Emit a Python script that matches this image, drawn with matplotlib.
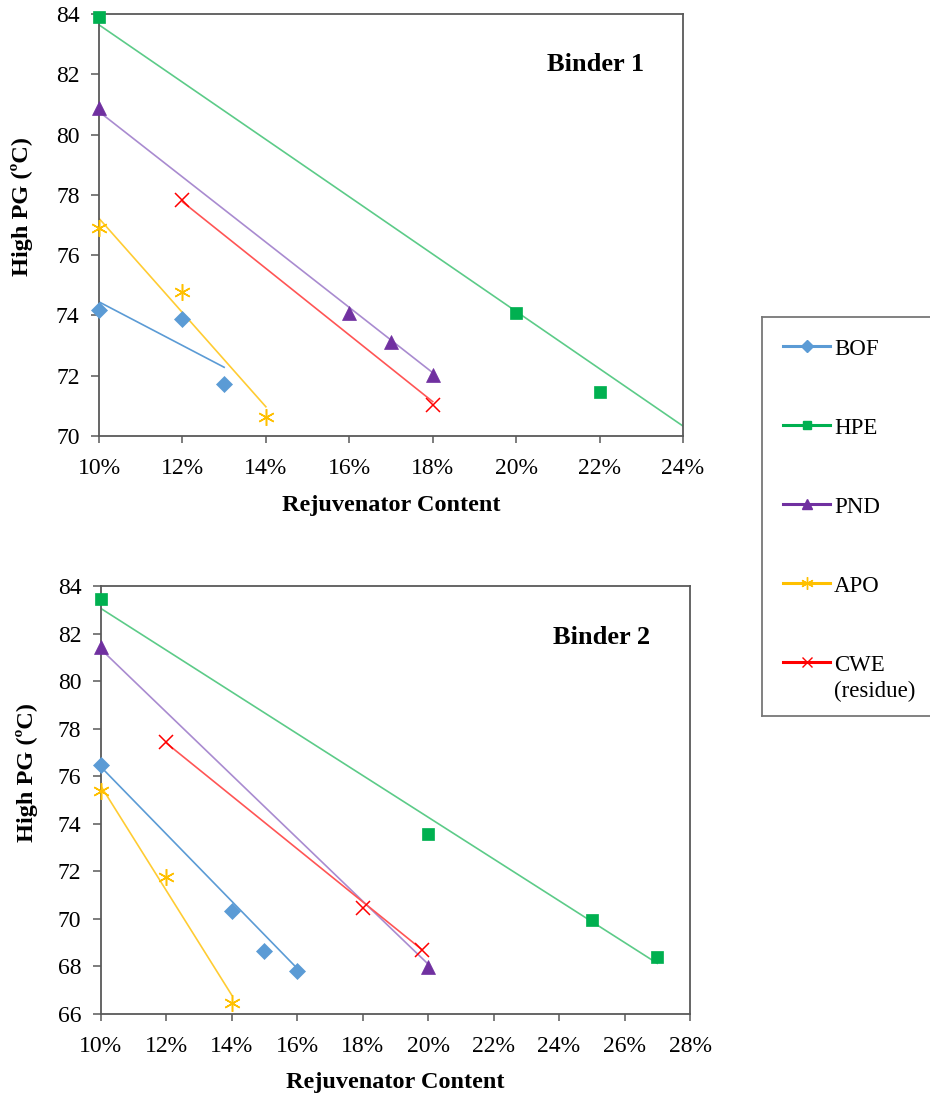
import matplotlib
matplotlib.use('Agg')
import matplotlib.pyplot as plt
from matplotlib.ticker import PercentFormatter, MultipleLocator

plt.rcParams['font.family'] = ['Liberation Serif', 'DejaVu Serif']

# series names and styles
names = ['BOF', 'HPE', 'PND', 'APO', 'CWE']
legend_labels = ['BOF', 'HPE', 'PND', 'APO', 'CWE\n(residue)']

# Binder 1 (x in %)
bof1_x = [10, 12, 13]
bof1_y = [74.18, 73.87, 71.72]
hpe1_x = [10, 20, 22]
hpe1_y = [83.9, 74.07, 71.47]
pnd1_x = [10, 16, 17, 18]
pnd1_y = [80.88, 74.09, 73.13, 72.02]
apo1_x = [10, 12, 14]
apo1_y = [76.89, 74.79, 70.62]
cwe1_x = [12, 18]
cwe1_y = [77.83, 71.03]

# Binder 1 trendlines: x range and y at the ends
trend1_x = [(10, 13), (10, 24), (10, 18), (10, 14), (12, 18)]
trend1_y = [(74.45, 72.28), (83.64, 70.33), (80.76, 72.1), (77.22, 70.97), (77.77, 71.14)]

# Binder 2
bof2_x = [10, 14, 15, 16]
bof2_y = [76.47, 70.35, 68.66, 67.81]
hpe2_x = [10, 20, 25, 27]
hpe2_y = [83.44, 73.57, 69.95, 68.41]
pnd2_x = [10, 20]
pnd2_y = [81.42, 67.99]
apo2_x = [10, 12, 14]
apo2_y = [75.39, 71.75, 66.48]
cwe2_x = [12, 18, 19.8]
cwe2_y = [77.45, 70.45, 68.69]

trend2_x = [(10, 16), (10, 27), (10, 20), (10, 14), (12, 19.8)]
trend2_y = [(76.4, 67.92), (83.06, 68.13), (81.35, 68.1), (75.6, 66.8), (77.4, 68.72)]

colors = ['#5B9BD5', '#00B050', '#7030A0', '#FFC000', '#FF0000']
trend_colors = ['#5B9BD5', '#5CCB88', '#A98BD0', '#FFCC33', '#FF5555']
markers = ['D', 's', '^', (6, 2, 0), 'x']
msizes = [8, 8.5, 9.5, 12, 10.5]

spine_col = '#595959'


def draw(ax, xs, ys, tx, ty, xmax, ymin, title):
    for i in range(5):
        ax.plot(tx[i], ty[i], color=trend_colors[i], lw=1.2, zorder=2)
        ax.plot(xs[i], ys[i], ls='none', marker=markers[i], ms=msizes[i],
                color=colors[i], mec=colors[i], mew=1.1 if i >= 3 else 0.5,
                zorder=3, clip_on=False)
    ax.set_xlim(10, xmax)
    ax.set_ylim(ymin, 84)
    ax.xaxis.set_major_locator(MultipleLocator(2))
    ax.yaxis.set_major_locator(MultipleLocator(2))
    ax.xaxis.set_major_formatter(PercentFormatter(decimals=0))
    for s in ax.spines.values():
        s.set_color(spine_col)
        s.set_linewidth(1.3)
    ax.tick_params(axis='x', direction='out', length=5, width=1.1, color=spine_col,
                   labelsize=17, pad=11)
    ax.tick_params(axis='y', direction='out', length=6, width=1.1, color=spine_col,
                   labelsize=17, pad=8)
    ax.set_xlabel('Rejuvenator Content', fontsize=17.5, fontweight='bold')
    ax.set_ylabel('High PG (ºC)', fontsize=17.5, fontweight='bold')
    ax.text(0.85, 0.88, title, transform=ax.transAxes, fontsize=19,
            fontweight='bold', ha='center', va='center')


fig = plt.figure(figsize=(9.3, 11.01), dpi=100)

ax1 = fig.add_axes([99 / 930, 1 - 436 / 1101, 584 / 930, 422 / 1101])
draw(ax1, [bof1_x, hpe1_x, pnd1_x, apo1_x, cwe1_x],
     [bof1_y, hpe1_y, pnd1_y, apo1_y, cwe1_y],
     trend1_x, trend1_y, 24, 70, 'Binder 1')
ax1.xaxis.set_label_coords(0.5, -0.14)
ax1.yaxis.set_label_coords(-0.113, 0.543)

ax2 = fig.add_axes([100.7 / 930, 1 - 1014 / 1101, 589.3 / 930, 428 / 1101])
draw(ax2, [bof2_x, hpe2_x, pnd2_x, apo2_x, cwe2_x],
     [bof2_y, hpe2_y, pnd2_y, apo2_y, cwe2_y],
     trend2_x, trend2_y, 28, 66, 'Binder 2')
ax2.xaxis.set_label_coords(0.5, -0.135)
ax2.yaxis.set_label_coords(-0.106, 0.565)

# legend box
lax = fig.add_axes([762 / 930, 1 - 716 / 1101, 175 / 930, 399 / 1101])
lax.set_xlim(0, 175)
lax.set_ylim(399, 0)
lax.set_xticks([])
lax.set_yticks([])
for s in lax.spines.values():
    s.set_color('#777777')
    s.set_linewidth(1.3)
for i in range(5):
    yy = 29 + i * 79
    lax.plot([21, 68], [yy, yy], color=colors[i], lw=2.2)
    lax.plot([44.5], [yy], marker=markers[i], color=colors[i], mec=colors[i],
             ms=msizes[i] * 0.75, mew=1.0, ls='none')
    lax.text(72, yy - 7, legend_labels[i], fontsize=16.5, va='top', ha='left',
             linespacing=1.3)

fig.savefig('out.png', dpi=100)
